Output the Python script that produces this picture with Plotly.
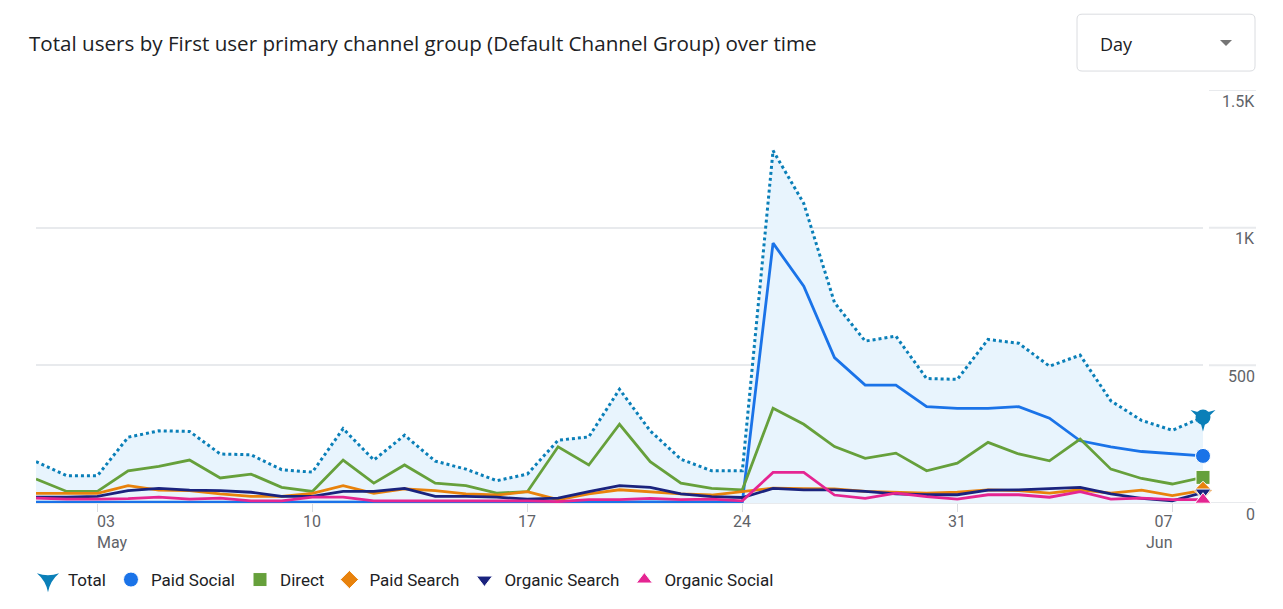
import pandas as pd
import plotly.graph_objects as go

# ---------------- data ----------------
dates = pd.date_range("2024-05-01", "2024-06-08", freq="D").strftime("%Y-%m-%d").tolist()

total = [150, 99, 99, 239, 262, 260, 178, 175, 121, 112,
         270, 156, 246, 152, 123, 81, 105, 228, 240, 413,
         262, 159, 117, 117, 1280, 1088, 728, 588, 606, 452,
         449, 594, 580, 497, 537, 371, 300, 264, 312]
paid_social = [3, 3, 3, 3, 3, 3, 3, 3, 3, 3,
               3, 3, 3, 3, 3, 3, 3, 3, 4, 4,
               4, 4, 4, 4, 944, 787, 528, 428, 428, 350,
               344, 344, 350, 308, 226, 204, 187, 178, 171]
direct = [87, 42, 42, 117, 133, 156, 91, 105, 57, 42,
          156, 72, 138, 72, 63, 36, 41, 204, 138, 286,
          150, 72, 53, 48, 344, 286, 205, 162, 181, 117,
          145, 220, 178, 153, 232, 123, 89, 69, 93]
paid_search = [35, 35, 35, 63, 47, 45, 33, 24, 24, 35,
               63, 35, 51, 45, 33, 29, 41, 12, 33, 48,
               41, 33, 29, 41, 54, 52, 51, 42, 39, 36,
               39, 48, 45, 36, 48, 36, 47, 27, 46]
organic_search = [21, 21, 24, 45, 53, 47, 45, 39, 24, 24,
                  42, 42, 53, 24, 24, 21, 14, 18, 41, 63,
                  57, 33, 23, 20, 53, 48, 48, 42, 33, 30,
                  30, 47, 48, 53, 57, 33, 17, 8, 38]
organic_social = [18, 14, 14, 16, 21, 14, 18, 8, 8, 21,
                  21, 8, 8, 8, 8, 8, 8, 5, 12, 12,
                  17, 12, 14, 8, 111, 111, 29, 17, 36, 23,
                  14, 30, 30, 21, 41, 14, 18, 12, 12]

series_names = ["Total", "Paid Social", "Direct", "Paid Search", "Organic Search", "Organic Social"]
x_tick_dates = ["2024-05-03", "2024-05-10", "2024-05-17", "2024-05-24", "2024-05-31", "2024-06-07"]
x_tick_labels = ["03<br>May", "10", "17", "24", "31", "07<br>Jun"]
x_tick_anchor = ["left", "center", "center", "center", "center", "right"]
y_tick_vals = [0, 500, 1000, 1500]
y_tick_labels = ["0", "500", "1K", "1.5K"]
title_text = "Total users by First user primary channel group (Default Channel Group) over time"

# ---------------- styling ----------------
W, H = 1283, 609
L, R, T, B = 36, 80, 90, 105
PW, PH = W - L - R, H - T - B


def px(xp):
    return (xp - L) / PW


def py(yp):
    return (H - B - yp) / PH


colors = {
    "Total": "#0a7fb8",
    "Paid Social": "#1a73e8",
    "Direct": "#66a03b",
    "Paid Search": "#e8820c",
    "Organic Search": "#1a237e",
    "Organic Social": "#e52592",
}
symbols = {
    "Total": "star-triangle-down",
    "Paid Social": "circle",
    "Direct": "square",
    "Paid Search": "diamond",
    "Organic Search": "triangle-down",
    "Organic Social": "triangle-up",
}
sizes = {"Total": 18, "Paid Social": 15, "Direct": 14, "Paid Search": 14,
         "Organic Search": 14, "Organic Social": 14}
values = {"Total": total, "Paid Social": paid_social, "Direct": direct,
          "Paid Search": paid_search, "Organic Search": organic_search,
          "Organic Social": organic_social}

fig = go.Figure()

# Total with fill
fig.add_trace(go.Scatter(
    x=dates, y=total, mode="lines", fill="tozeroy",
    fillcolor="rgba(232,244,253,1)",
    line=dict(color=colors["Total"], width=3, dash="3px,3px"),
    showlegend=False, hoverinfo="skip"))

for name in series_names[1:]:
    fig.add_trace(go.Scatter(
        x=dates, y=values[name], mode="lines",
        line=dict(color=colors[name], width=2.8),
        showlegend=False, hoverinfo="skip"))

# dome cap for the Total end marker (pin look)
fig.add_trace(go.Scatter(
    x=[dates[-1]], y=[total[-1]], mode="markers",
    marker=dict(symbol="circle", size=15, color=colors["Total"]),
    cliponaxis=False, showlegend=False, hoverinfo="skip"))

# end markers (also legend entries)
for name in series_names:
    fig.add_trace(go.Scatter(
        x=[dates[-1]], y=[values[name][-1]], mode="markers", name=name,
        marker=dict(symbol=symbols[name], size=sizes[name], color=colors[name],
                    line=dict(color="white", width=1 if name != "Total" else 0)),
        cliponaxis=False, showlegend=True))

annotations = []
# title
annotations.append(dict(
    text=title_text, xref="paper", yref="paper", x=px(27), y=py(43),
    xanchor="left", yanchor="middle", showarrow=False,
    font=dict(family="Open Sans", size=20.6, color="#202124")))
# dropdown label
annotations.append(dict(
    text="Day", xref="paper", yref="paper", x=px(1098), y=py(43.5),
    xanchor="left", yanchor="middle", showarrow=False,
    font=dict(family="Open Sans", size=18, color="#202124")))
# y tick labels
for v, lab in zip(y_tick_vals, y_tick_labels):
    annotations.append(dict(
        text=lab, xref="paper", yref="y", x=px(1257), y=v,
        xanchor="right", yanchor="middle", yshift=-11, showarrow=False,
        font=dict(family="Roboto", size=16, color="#5f6368")))
# x tick labels
for d, lab, anc in zip(x_tick_dates, x_tick_labels, x_tick_anchor):
    shift = {"left": -2, "center": 0, "right": 2}[anc]
    annotations.append(dict(
        text=lab, xref="x", yref="paper", x=d, y=0, xanchor=anc,
        yanchor="top", yshift=-7, xshift=shift, align=anc,
        showarrow=False, font=dict(family="Roboto", size=16, color="#5f6368")))

shapes = []
# grid line stubs under right labels
for v in y_tick_vals:
    shapes.append(dict(type="line", xref="paper", yref="y",
                       x0=px(1209), x1=px(1256), y0=v, y1=v,
                       line=dict(color="#e8eaed", width=2), layer="below"))
# dropdown box (rounded)
x1, x2, y1, y2, r = 1077, 1255, 14, 71, 5
path = (f"M {px(x1 + r)},{py(y1)} L {px(x2 - r)},{py(y1)} Q {px(x2)},{py(y1)} {px(x2)},{py(y1 + r)} "
        f"L {px(x2)},{py(y2 - r)} Q {px(x2)},{py(y2)} {px(x2 - r)},{py(y2)} "
        f"L {px(x1 + r)},{py(y2)} Q {px(x1)},{py(y2)} {px(x1)},{py(y2 - r)} "
        f"L {px(x1)},{py(y1 + r)} Q {px(x1)},{py(y1)} {px(x1 + r)},{py(y1)} Z")
shapes.append(dict(type="path", xref="paper", yref="paper", path=path,
                   line=dict(color="#dadce0", width=1), fillcolor="rgba(0,0,0,0)"))
tri = f"M {px(1220)},{py(40)} L {px(1232)},{py(40)} L {px(1226)},{py(46)} Z"
shapes.append(dict(type="path", xref="paper", yref="paper", path=tri,
                   line=dict(color="#757575", width=0), fillcolor="#757575"))

fig.update_layout(
    width=W, height=H,
    margin=dict(l=L, r=R, t=T, b=B),
    paper_bgcolor="white", plot_bgcolor="white",
    font=dict(family="Roboto", color="#202124"),
    xaxis=dict(type="date", range=[dates[0], dates[-1]], showgrid=False,
               zeroline=False, showline=False, ticks="outside",
               tickmode="array", tickvals=x_tick_dates, ticklen=8,
               tickwidth=1, tickcolor="#dadce0", showticklabels=False,
               fixedrange=True),
    yaxis=dict(range=[0, 1500], tickmode="array", tickvals=y_tick_vals,
               showticklabels=False, showgrid=True, gridcolor="#e8eaed",
               gridwidth=2, zeroline=True, zerolinecolor="#e8eaed",
               zerolinewidth=2, showline=False, fixedrange=True),
    legend=dict(orientation="h", x=px(28), xanchor="left", y=py(580),
                yanchor="middle", font=dict(family="Roboto", size=17, color="#202124"),
                bgcolor="rgba(0,0,0,0)", traceorder="normal", itemclick=False),
    annotations=annotations,
    shapes=shapes,
    showlegend=True,
)

fig.write_html("out.html")
